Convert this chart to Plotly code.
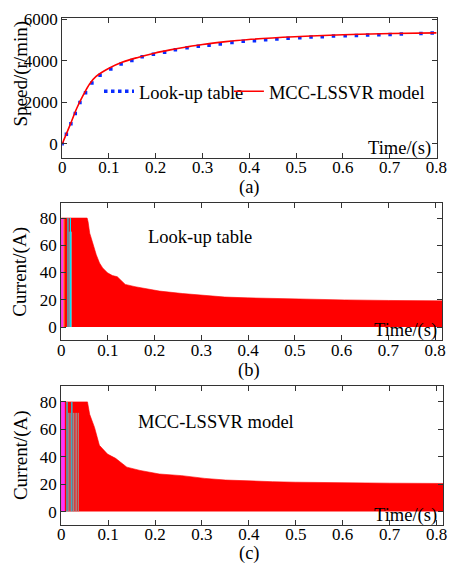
import plotly.graph_objects as go

# ---------------- data ----------------
# (a) speed
t_model = [0, 0.017, 0.031, 0.045, 0.059, 0.0725, 0.1, 0.128, 0.162, 0.197, 0.231,
           0.266, 0.30, 0.35, 0.394, 0.497, 0.601, 0.705, 0.8]
v_model = [0, 912, 1700, 2337, 2890, 3240, 3634, 3920, 4157, 4361, 4520,
           4660, 4780, 4915, 5010, 5150, 5245, 5305, 5340]
t_lut = [0, 0.009, 0.0187, 0.028, 0.038, 0.050, 0.0636, 0.081, 0.104, 0.126, 0.149,
         0.171, 0.195, 0.219, 0.242, 0.267, 0.291, 0.314, 0.338, 0.363, 0.387, 0.411,
         0.435, 0.459, 0.483, 0.508, 0.532, 0.556, 0.580, 0.605, 0.629, 0.653, 0.677,
         0.701, 0.725, 0.767, 0.791]
v_lut = [0, 466, 960, 1463, 1986, 2461, 2922, 3302, 3601, 3838, 4014,
         4190, 4314, 4409, 4523, 4618, 4694, 4741, 4807, 4869, 4931, 4964,
         5012, 5045, 5074, 5107, 5140, 5154, 5188, 5202, 5216, 5235, 5249,
         5264, 5283, 5311, 5330]

# (b) current envelope, look-up table
t_b = [0, 0.0555, 0.0575, 0.061, 0.0644, 0.068, 0.075, 0.082, 0.0887, 0.099, 0.1095,
       0.12, 0.13, 0.137, 0.158, 0.168, 0.21, 0.259, 0.308, 0.35, 0.398, 0.45, 0.502,
       0.606, 0.70, 0.815]
i_b = [80, 80, 77.3, 68.9, 65.2, 60.4, 53.1, 47, 43.4, 39.8, 37.8,
       36.9, 33.7, 31.3, 29.6, 28.9, 26.4, 24.6, 23.0, 22.0, 21.4, 20.9, 20.5,
       19.9, 19.5, 19.2]
# early phase stripes (b)
stripe_b_t = [0.003, 0.006, 0.0145, 0.0174, 0.0197, 0.022]
stripe_b_top = [80, 80, 80, 70, 80, 70]

# (c) current envelope, MCC-LSSVR model
t_c = [0, 0.056, 0.0607, 0.071, 0.0814, 0.0987, 0.116, 0.133, 0.14, 0.168, 0.209,
       0.257, 0.306, 0.35, 0.395, 0.45, 0.499, 0.602, 0.70, 0.814]
i_c = [80, 80, 70.9, 61.4, 48.3, 41.9, 38.8, 34.1, 32.4, 30.0, 27.4,
       26.2, 24.2, 23.0, 22.3, 21.8, 21.4, 20.9, 20.7, 20.5]
stripe_c_t = [0.0035, 0.0124, 0.016, 0.019, 0.0227, 0.026, 0.0296, 0.033, 0.0365]
stripe_c_top = [80, 80, 72, 72, 80, 72, 72, 72, 72]

x_ticks = [0, 0.1, 0.2, 0.3, 0.4, 0.5, 0.6, 0.7, 0.8]
x_ticktext = ["0", "0.1", "0.2", "0.3", "0.4", "0.5", "0.6", "0.7", "0.8"]
speed_ticks = [0, 2000, 4000, 6000]
current_ticks = [0, 20, 40, 60, 80]

# ---------------- styles ----------------
W, H = 458, 565
FONT = "Liberation Serif, Times New Roman, serif"
FS_TICK = 17
FS_TEXT = 18.5
FS_TITLE = 19
AX = "#333333"
stripe_b_colors = ["#ff33ff", "#ff9900", "#00e5ff", "#999999", "#00e5ff", "#999999"]
stripe_c_colors = ["#ff33ff", "#00e5ff", "#999999", "#999999", "#00e5ff", "#999999",
                   "#999999", "#999999", "#999999"]
stripe_b_w = [3, 1, 1.2, 1, 1.2, 1]
stripe_c_w = [4, 1.2, 1, 1, 1.2, 1, 1, 1, 1]


def px_x(p):
    return p / W


def px_y(p):
    return 1 - p / H


fig = go.Figure()

# (a)
fig.add_trace(go.Scatter(x=t_lut, y=v_lut, mode="markers", showlegend=False,
                         marker=dict(color="#0a2cff", size=3.5, symbol="square"),
                         xaxis="x", yaxis="y"))
fig.add_trace(go.Scatter(x=t_model, y=v_model, mode="lines", showlegend=False,
                         line=dict(color="#ff0000", width=1.6, shape="spline"),
                         xaxis="x", yaxis="y"))
# legend entries
fig.add_trace(go.Scatter(x=[None], y=[None], mode="lines", name="Look-up table",
                         line=dict(color="#0a2cff", width=3.5, dash="dot"),
                         xaxis="x", yaxis="y", legend="legend"))
fig.add_trace(go.Scatter(x=[None], y=[None], mode="lines", name="MCC-LSSVR model",
                         line=dict(color="#ff0000", width=1.6),
                         xaxis="x", yaxis="y", legend="legend2"))

# (b)
fig.add_trace(go.Scatter(x=t_b, y=i_b, mode="lines", fill="tozeroy", showlegend=False,
                         line=dict(width=0.6, color="#ff0000"), fillcolor="#ff0000",
                         xaxis="x2", yaxis="y2"))
for t, top, c, w in zip(stripe_b_t, stripe_b_top, stripe_b_colors, stripe_b_w):
    fig.add_trace(go.Scatter(x=[t, t], y=[0, top], mode="lines", showlegend=False,
                             line=dict(color=c, width=w), xaxis="x2", yaxis="y2"))

# (c)
fig.add_trace(go.Scatter(x=t_c, y=i_c, mode="lines", fill="tozeroy", showlegend=False,
                         line=dict(width=0.6, color="#ff0000"), fillcolor="#ff0000",
                         xaxis="x3", yaxis="y3"))
for t, top, c, w in zip(stripe_c_t, stripe_c_top, stripe_c_colors, stripe_c_w):
    fig.add_trace(go.Scatter(x=[t, t], y=[0, top], mode="lines", showlegend=False,
                             line=dict(color=c, width=w), xaxis="x3", yaxis="y3"))

axis_common = dict(showline=True, mirror="ticks", linecolor=AX, linewidth=1,
                   ticks="inside", ticklen=5, tickcolor=AX, showgrid=False,
                   zeroline=False, layer="above traces",
                   tickfont=dict(family=FONT, size=FS_TICK, color="black"))
legend_common = dict(orientation="h", xanchor="left", yanchor="middle",
                     bgcolor="rgba(0,0,0,0)", itemwidth=30,
                     font=dict(family=FONT, size=FS_TEXT, color="black"))

fig.update_layout(
    width=W, height=H,
    margin=dict(l=0, r=0, t=0, b=0),
    paper_bgcolor="white", plot_bgcolor="white",
    font=dict(family=FONT, size=FS_TICK, color="black"),
    showlegend=True,
    legend=dict(x=px_x(98), y=px_y(85), **legend_common),
    legend2=dict(x=px_x(232), y=px_y(85), **legend_common),
    xaxis=dict(domain=[px_x(60), px_x(447)], range=[0, 0.802], anchor="y",
               tickvals=x_ticks, ticktext=x_ticktext, ticklabelstandoff=-6, **axis_common),
    yaxis=dict(domain=[px_y(152), px_y(10)], range=[-675, 6060], anchor="x",
               tickvals=speed_ticks, **axis_common),
    xaxis2=dict(domain=[px_x(59), px_x(452)], range=[0, 0.815], anchor="y2",
                tickvals=x_ticks, ticktext=x_ticktext, ticklabelstandoff=-6, **axis_common),
    yaxis2=dict(domain=[px_y(337), px_y(198)], range=[-9.7, 90.9], anchor="x2",
                tickvals=current_ticks, **axis_common),
    xaxis3=dict(domain=[px_x(59), px_x(453)], range=[0, 0.814], anchor="y3",
                tickvals=x_ticks, ticktext=x_ticktext, ticklabelstandoff=-6, **axis_common),
    yaxis3=dict(domain=[px_y(524), px_y(383)], range=[-9.5, 91.9], anchor="x3",
                tickvals=current_ticks, **axis_common),
)

ann = []


def add_text(text, x, y, size, angle=0, xanchor="center"):
    ann.append(dict(text=text, x=px_x(x), y=px_y(y), xref="paper", yref="paper",
                    showarrow=False, textangle=angle, xanchor=xanchor, yanchor="middle",
                    font=dict(family=FONT, size=size, color="black")))


add_text("Speed/(r/min)", 18, 66, FS_TITLE, angle=-90)
add_text("Time/(s)", 443, 143, FS_TEXT, xanchor="right")
add_text("(a)", 253, 182, FS_TEXT)
add_text("Current/(A)", 17, 267, FS_TITLE, angle=-90)
add_text("Look-up table", 202, 232, FS_TEXT)
add_text("Time/(s)", 449, 327, FS_TEXT, xanchor="right")
add_text("(b)", 253, 368, FS_TEXT)
add_text("Current/(A)", 17, 453, FS_TITLE, angle=-90)
add_text("MCC-LSSVR model", 219, 420, FS_TEXT)
add_text("Time/(s)", 449, 515, FS_TEXT, xanchor="right")
add_text("(c)", 253, 553, FS_TEXT)
fig.update_layout(annotations=ann)

fig.write_html("out.html", config={"displayModeBar": False},
               post_script="document.body.style.margin='0px';document.body.style.overflow='hidden';")
